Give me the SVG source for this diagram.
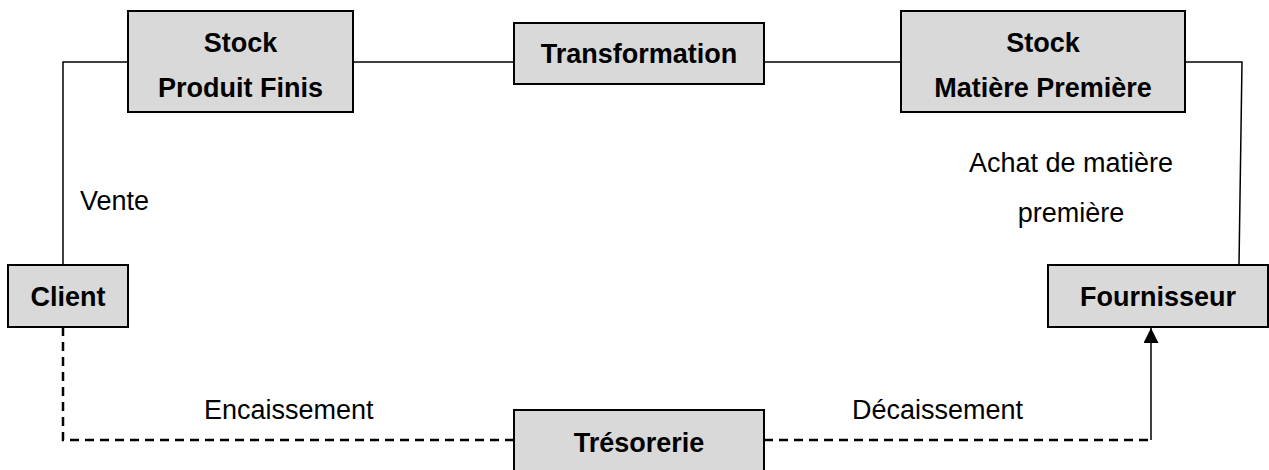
<svg xmlns="http://www.w3.org/2000/svg" width="1269" height="470" viewBox="0 0 1269 470">
<style>
.box{fill:#d9d9d9;stroke:#000;stroke-width:2}
.t{font-family:"Liberation Sans",Arial,sans-serif;font-size:27px;font-weight:bold;fill:#000;text-anchor:middle}
.l{font-family:"Liberation Sans",Arial,sans-serif;font-size:27px;fill:#000}
.c{fill:none;stroke:#000;stroke-width:1.5}
.d{fill:none;stroke:#000;stroke-width:2.5;stroke-dasharray:9 6}
</style>
<defs>
<marker id="arr" viewBox="0 0 10 10" refX="10" refY="5" markerWidth="16" markerHeight="15" markerUnits="userSpaceOnUse" orient="auto">
<path d="M0,0 L10,5 L0,10 z" fill="#000"/>
</marker>
</defs>
<rect width="1269" height="470" fill="#fff"/>
<g id="connectors">
<polyline class="c" points="128,62 63,62 63,265"/>
<line class="c" x1="353" y1="62" x2="514" y2="62"/>
<line class="c" x1="764" y1="62" x2="901" y2="62"/>
<polyline class="c" points="1185,62 1242,62 1239,265"/>
<polyline class="d" points="63,327 63,440 514,440"/>
<polyline class="d" points="764,440 1151,440"/>
<line class="c" x1="1151" y1="440" x2="1151" y2="328" stroke-width="2.5" marker-end="url(#arr)"/>
<text class="l" x="80" y="210">Vente</text>
<text class="l" x="1071" y="172" text-anchor="middle">Achat de matière</text>
<text class="l" x="1071" y="222" text-anchor="middle">première</text>
<text class="l" x="204" y="419">Encaissement</text>
<text class="l" x="852" y="419">Décaissement</text>
</g>
<g id="stock-pf">
<rect class="box" x="128" y="11" width="225" height="101"/>
<text class="t" x="240.5" y="52">Stock</text>
<text class="t" x="240.5" y="97">Produit Finis</text>
</g>
<g id="transformation">
<rect class="box" x="514" y="23" width="250" height="61"/>
<text class="t" x="639" y="63">Transformation</text>
</g>
<g id="stock-mp">
<rect class="box" x="901" y="11" width="284" height="101"/>
<text class="t" x="1043" y="52">Stock</text>
<text class="t" x="1043" y="97">Matière Première</text>
</g>
<g id="client">
<rect class="box" x="8" y="265" width="120" height="62"/>
<text class="t" x="68" y="306">Client</text>
</g>
<g id="fournisseur">
<rect class="box" x="1048" y="265" width="220" height="62"/>
<text class="t" x="1158" y="306">Fournisseur</text>
</g>
<g id="tresorerie">
<rect class="box" x="514" y="410" width="250" height="70"/>
<text class="t" x="639" y="452">Trésorerie</text>
</g>
</svg>
